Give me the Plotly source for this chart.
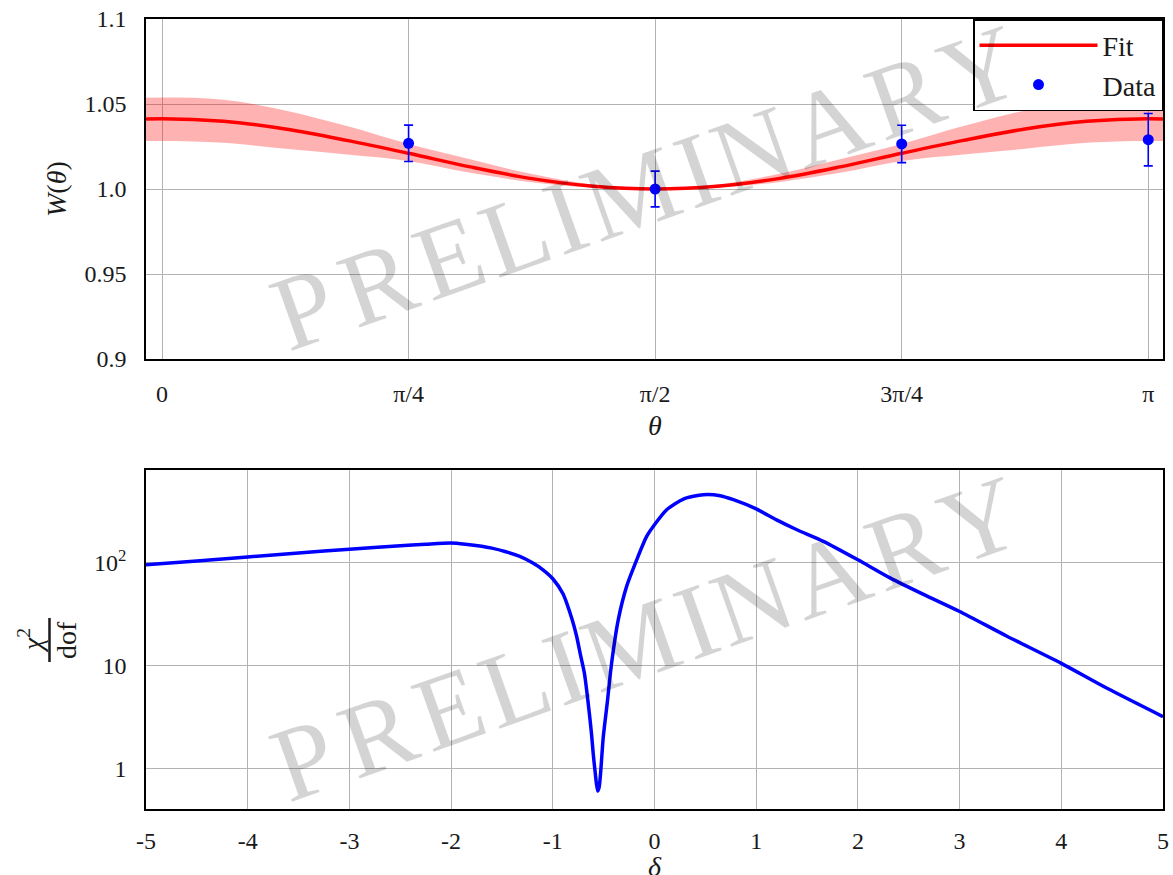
import math
import plotly.graph_objects as go

PI = math.pi

# ---------------- data ----------------
# Fit curve W(theta), sampled at theta = k*pi/16, k = -1..17
fit_k = [-1, 0, 1, 2, 3, 4, 5, 6, 7, 8, 9, 10, 11, 12, 13, 14, 15, 16, 17]
fit_w = [1.0398, 1.0413, 1.0398, 1.0353, 1.0286, 1.0210, 1.0130, 1.0061, 1.0016, 1.0000,
         1.0016, 1.0061, 1.0130, 1.0210, 1.0286, 1.0353, 1.0398, 1.0413, 1.0398]
band_hi = [1.0525, 1.0538, 1.0525, 1.0462, 1.0370, 1.0265, 1.0175, 1.0088, 1.0025, 1.0000,
           1.0025, 1.0088, 1.0175, 1.0265, 1.0370, 1.0462, 1.0525, 1.0538, 1.0525]
band_lo = [1.0272, 1.0283, 1.0272, 1.0237, 1.0203, 1.0165, 1.0095, 1.0040, 1.0008, 1.0000,
           1.0008, 1.0040, 1.0095, 1.0165, 1.0203, 1.0237, 1.0272, 1.0283, 1.0272]

# Data points at theta = k*pi/4
data_k = [1, 2, 3, 4]
data_w = [1.0269, 1.0000, 1.0265, 1.0290]
data_err = [0.0107, 0.0105, 0.0110, 0.0154]

theta_ticktext = ["0", "π/4", "π/2", "3π/4", "π"]
w_ticks = [0.9, 0.95, 1.0, 1.05, 1.1]
w_ticktext = ["0.9", "0.95", "1.0", "1.05", "1.1"]

# chi^2/dof versus mixing ratio delta
delta = [-5.0, -4.5, -4.0, -3.5, -3.0, -2.5, -2.25, -2.0, -1.86, -1.7, -1.6, -1.47, -1.33,
         -1.2, -1.1, -1.0, -0.9, -0.865, -0.81, -0.767, -0.73, -0.69, -0.652, -0.62,
         -0.603, -0.58, -0.56, -0.545, -0.53, -0.504, -0.465, -0.422, -0.356, -0.274,
         -0.175, -0.077, 0.0, 0.12, 0.284, 0.481, 0.645, 0.776, 1.0, 1.2, 1.4, 1.66,
         2.0, 2.32, 2.65, 3.0, 3.47, 4.0, 4.45, 5.0]
chi2 = [96, 104, 114, 125, 136, 147, 152, 156, 152, 145, 139, 129, 116,
        100, 86, 70, 50, 41, 28, 19.5, 13.0, 8.5, 4.3, 2.2,
        1.4, 0.85, 0.6, 0.65, 0.9, 2.0, 4.3, 10.5, 28, 59,
        107, 181, 235, 329, 418, 461, 451, 412, 335, 262, 210, 162,
        107, 71, 49, 33.6, 19.2, 10.5, 6.0, 3.18]

delta_ticks = [-5, -4, -3, -2, -1, 0, 1, 2, 3, 4, 5]
delta_ticktext = ["-5", "-4", "-3", "-2", "-1", "0", "1", "2", "3", "4", "5"]
chi_ticks = [1, 10, 100]
chi_ticktext = ["1", "10", "10<sup>2</sup>"]

# ---------------- figure ----------------
theta_fit = [k * PI / 16 for k in fit_k]
theta_data = [k * PI / 4 for k in data_k]
theta_ticks = [k * PI / 4 for k in range(5)]

FONT = "Liberation Serif"
TXT = "#1a1a1a"
GRID = "#b3b3b3"

W, H = 1173, 875
ML, MR, MT, MB = 146, 10, 19, 66
PW, PH = W - ML - MR, H - MT - MB


def px2paper(px, py):
    return (px - ML) / PW, (H - MB - py) / PH


fig = go.Figure()

fig.add_trace(go.Scatter(x=theta_fit, y=band_lo, mode="lines", line=dict(width=0, shape="spline"),
                         showlegend=False, hoverinfo="skip", xaxis="x", yaxis="y"))
fig.add_trace(go.Scatter(x=theta_fit, y=band_hi, mode="lines", line=dict(width=0, shape="spline"),
                         fill="tonexty", fillcolor="rgba(255,0,0,0.3)",
                         showlegend=False, hoverinfo="skip", xaxis="x", yaxis="y"))
fig.add_trace(go.Scatter(x=theta_fit, y=fit_w, mode="lines", name="Fit",
                         line=dict(color="#ff0000", width=3.5, shape="spline"),
                         xaxis="x", yaxis="y"))
fig.add_trace(go.Scatter(x=theta_data, y=data_w, mode="markers", name="Data",
                         marker=dict(color="#0000ff", size=11),
                         error_y=dict(type="data", array=data_err, color="#0000ff",
                                      thickness=1.6, width=4.5),
                         xaxis="x", yaxis="y"))

fig.add_trace(go.Scatter(x=delta, y=chi2, mode="lines", showlegend=False,
                         line=dict(color="#0000ff", width=3.5, shape="spline", smoothing=0.7),
                         xaxis="x2", yaxis="y2"))

axis_common = dict(showgrid=True, gridcolor=GRID, gridwidth=1.3, zeroline=False,
                   showline=True, linecolor="black", linewidth=1.5, mirror=True,
                   ticks="outside", tickcolor="rgba(0,0,0,0)", automargin=False,
                   tickfont=dict(family=FONT, size=24, color=TXT))

fig.update_layout(
    width=W, height=H, autosize=False, template="none",
    margin=dict(l=ML, r=MR, t=MT, b=MB, pad=0),
    paper_bgcolor="white", plot_bgcolor="white",
    xaxis=dict(axis_common, domain=[0, 1], anchor="y", range=[-0.051, PI + 0.047],
               tickvals=theta_ticks, ticktext=theta_ticktext, ticklen=12),
    yaxis=dict(axis_common, domain=[0.5696, 1], anchor="x", range=[0.9, 1.1],
               tickvals=w_ticks, ticktext=w_ticktext, ticklen=13),
    xaxis2=dict(axis_common, domain=[0, 1], anchor="y2", range=[-5, 5],
                tickvals=delta_ticks, ticktext=delta_ticktext, ticklen=9),
    yaxis2=dict(axis_common, domain=[0, 0.4291], anchor="x2", type="log",
                range=[-0.397, 2.904], tickvals=chi_ticks, ticktext=chi_ticktext, ticklen=13),
    legend=dict(x=1, xanchor="right", y=1, yanchor="top", bgcolor="white",
                bordercolor="black", borderwidth=1.5, itemwidth=118, traceorder="normal",
                font=dict(family=FONT, size=28, color=TXT)),
    showlegend=True,
)

ann = []
ann.append(dict(text="<i>W</i>(<i>θ</i>)", x=-0.0885, y=0.7848, textangle=-90,
                font=dict(family=FONT, size=28, color=TXT)))
ann.append(dict(text="<i>θ</i>", x=0.5006, y=0.486, font=dict(family=FONT, size=28, color=TXT)))
ann.append(dict(text="<i>δ</i>", x=0.5006, y=-0.0722, font=dict(family=FONT, size=28, color=TXT)))
ann.append(dict(text="<i>χ</i><sup>2</sup>", x=-0.1141, y=0.2139, textangle=-90,
                font=dict(family=FONT, size=28, color=TXT)))
ann.append(dict(text="dof", x=-0.0787, y=0.2139, textangle=-90,
                font=dict(family=FONT, size=28, color=TXT)))

# watermark, one letter at a time along a rising baseline
wm_letters = list("PRELIMINARY")
wm_adv = [0.681, 0.736, 0.681, 0.625, 0.361, 0.917, 0.361, 0.750, 0.750, 0.736, 0.750]
wm_em = 108.0          # px per em along the baseline
wm_ang = 19.5          # degrees, counter-clockwise
wm_lift = 35.0         # baseline -> letter-box centre
ca, sa = math.cos(math.radians(wm_ang)), math.sin(math.radians(wm_ang))
for (bx, by) in [(282, 354), (282, 805)]:
    s = 0.0
    for ch, adv in zip(wm_letters, wm_adv):
        d = (s + adv / 2) * wm_em
        cx = bx + d * ca - wm_lift * sa
        cy = by - d * sa - wm_lift * ca
        xp, yp = px2paper(cx, cy)
        ann.append(dict(text=ch, x=xp, y=yp, textangle=-wm_ang,
                        font=dict(family=FONT, size=106, color="rgba(0,0,0,0.17)")))
        s += adv

for a in ann:
    a.update(xref="paper", yref="paper", showarrow=False, xanchor="center", yanchor="middle")
fig.update_layout(annotations=ann)

fig.add_shape(type="line", xref="paper", yref="paper", x0=-0.0949, x1=-0.0949,
              y0=0.1861, y1=0.2418, line=dict(color=TXT, width=2.5))

fig.write_html("out.html", config={"displayModeBar": False},
               post_script="document.body.style.margin='0';document.body.style.padding='0';")
